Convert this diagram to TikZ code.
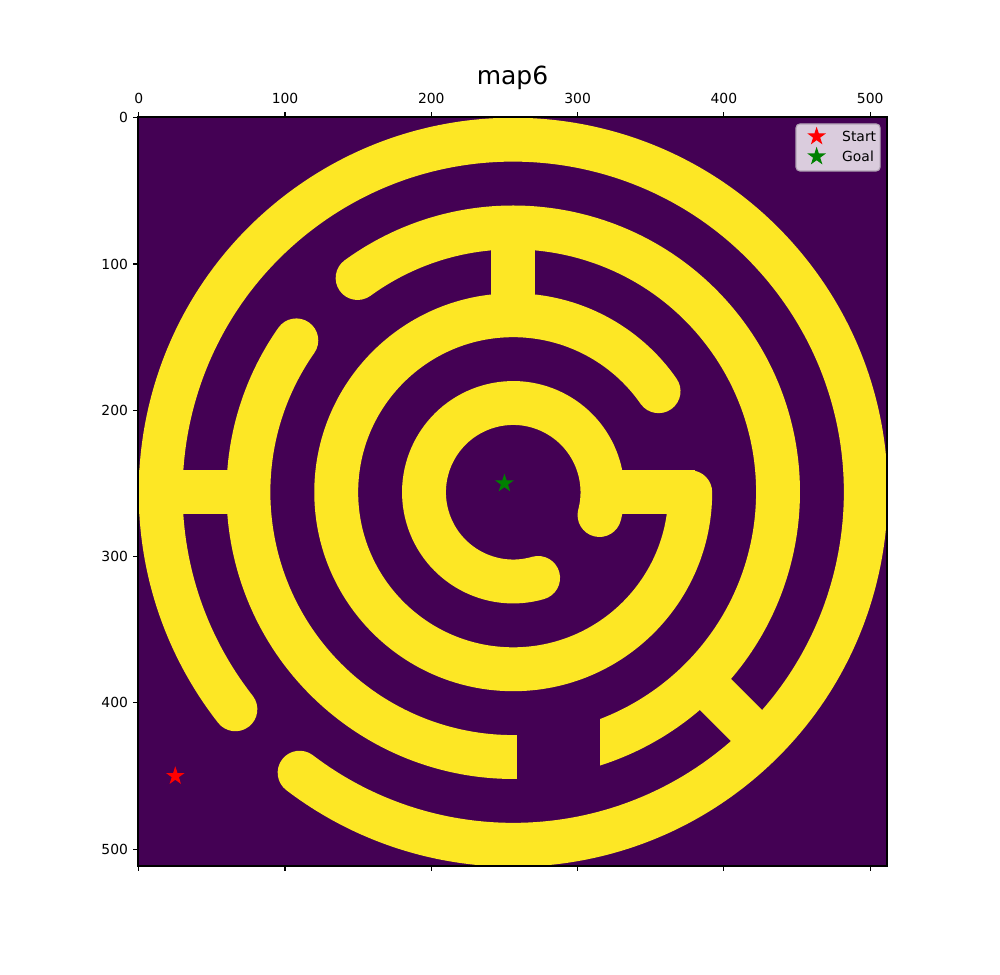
\documentclass[tikz,border=0pt]{standalone}
\usepackage{fontspec}
\setmainfont{DejaVu Sans}
\usetikzlibrary{shapes.geometric,calc}
\definecolor{vdark}{HTML}{440154}
\definecolor{vyellow}{HTML}{FDE725}
\definecolor{legfill}{RGB}{218,204,221}
\definecolor{legedge}{RGB}{177,163,180}
\definecolor{mplgreen}{HTML}{008000}
\begin{document}
\begin{tikzpicture}[x=1.053281pt, y=-1.053281pt,
  wall/.style={line width=31.598pt, draw=vyellow},
  roundwall/.style={wall, line cap=round},
  barwall/.style={fill=vyellow},
  axline/.style={line width=0.8pt, draw=black},
  tickmark/.style={line width=0.8pt, draw=black},
  ticklabel/.style={font=\fontsize{10}{12}\selectfont, inner sep=0pt},
  starmark/.style={star, star points=5, star point ratio=2.618, minimum size=11.5pt, inner sep=0pt, line width=0.8pt},
  legtext/.style={font=\fontsize{10}{12}\selectfont, inner sep=0pt, anchor=base west}]
\useasboundingbox (-94.83,-80.48) rectangle (588.75,585.33);
% image background
\fill[vdark] (-0.5,-0.5) rectangle (511.5,511.5);
\begin{scope}
\clip (-0.5,-0.5) rectangle (511.5,511.5);
\coordinate (c) at (256,256);
% ring 1 (outer)
\draw[roundwall] ($(c)+(142:241)$) arc[start angle=142, end angle=487.3, radius=241];
% ring 2, part A and part B
\draw[roundwall] ($(c)+(234:181)$) arc[start angle=234, end angle=450, radius=181];
\draw[roundwall] ($(c)+(215:181)$) arc[start angle=215, end angle=80, radius=181];
% cut at the bottom of ring 2
\fill[vdark] (258.5,398) rectangle (315.5,472);
% ring 3
\draw[roundwall] ($(c)+(0:121)$) arc[start angle=0, end angle=325.2, radius=121];
% ring 4 (inner)
\draw[roundwall] ($(c)+(73.8:61)$) arc[start angle=73.8, end angle=374.8, radius=61];
% connecting bars
\fill[barwall] (-1,241) rectangle (80,271);
\fill[barwall] (241,80) rectangle (271,132);
\fill[barwall] (310,241) rectangle (380,271);
\draw[wall] ($(c)+(45:175)$) -- ($(c)+(45:247)$);
\end{scope}
% markers
\node[starmark, fill=red, draw=red] (start) at (25,450) {};
\node[starmark, fill=mplgreen, draw=mplgreen] (goal) at (250,250) {};
% axes frame
\draw[axline] (-0.5,-0.5) rectangle (511.5,511.5);
% ticks and labels
\foreach \t in {0,100,200,300,400,500} {
  \draw[tickmark] (\t,-0.5) -- ++(0pt,3.5pt);
  \draw[tickmark] (\t,511.5) -- ++(0pt,-3.5pt);
  \draw[tickmark] (-0.5,\t) -- ++(-3.5pt,0pt);
  \node[ticklabel, anchor=base] (xt\t) at (\t,-10.0) {\t};
  \node[ticklabel, anchor=east, xshift=-7pt] (yt\t) at (-0.5,\t) {\t};
}
% title
\node[font=\fontsize{18}{22}\selectfont, inner sep=0pt, anchor=base] (title) at (255.5,-22.85) {map6};
% legend
\draw[fill=legfill, draw=legedge, line width=0.8pt, rounded corners=2.8pt] (449.3,4.25) rectangle (506.8,36.4);
\node[starmark, fill=red, draw=red] (startleg) at (463.4,12.8) {};
\node[starmark, fill=mplgreen, draw=mplgreen] (goalleg) at (463.4,26.5) {};
\node[legtext] (startlab) at (480.7,16.2) {Start};
\node[legtext] (goallab) at (480.7,29.9) {Goal};
\end{tikzpicture}
\end{document}
